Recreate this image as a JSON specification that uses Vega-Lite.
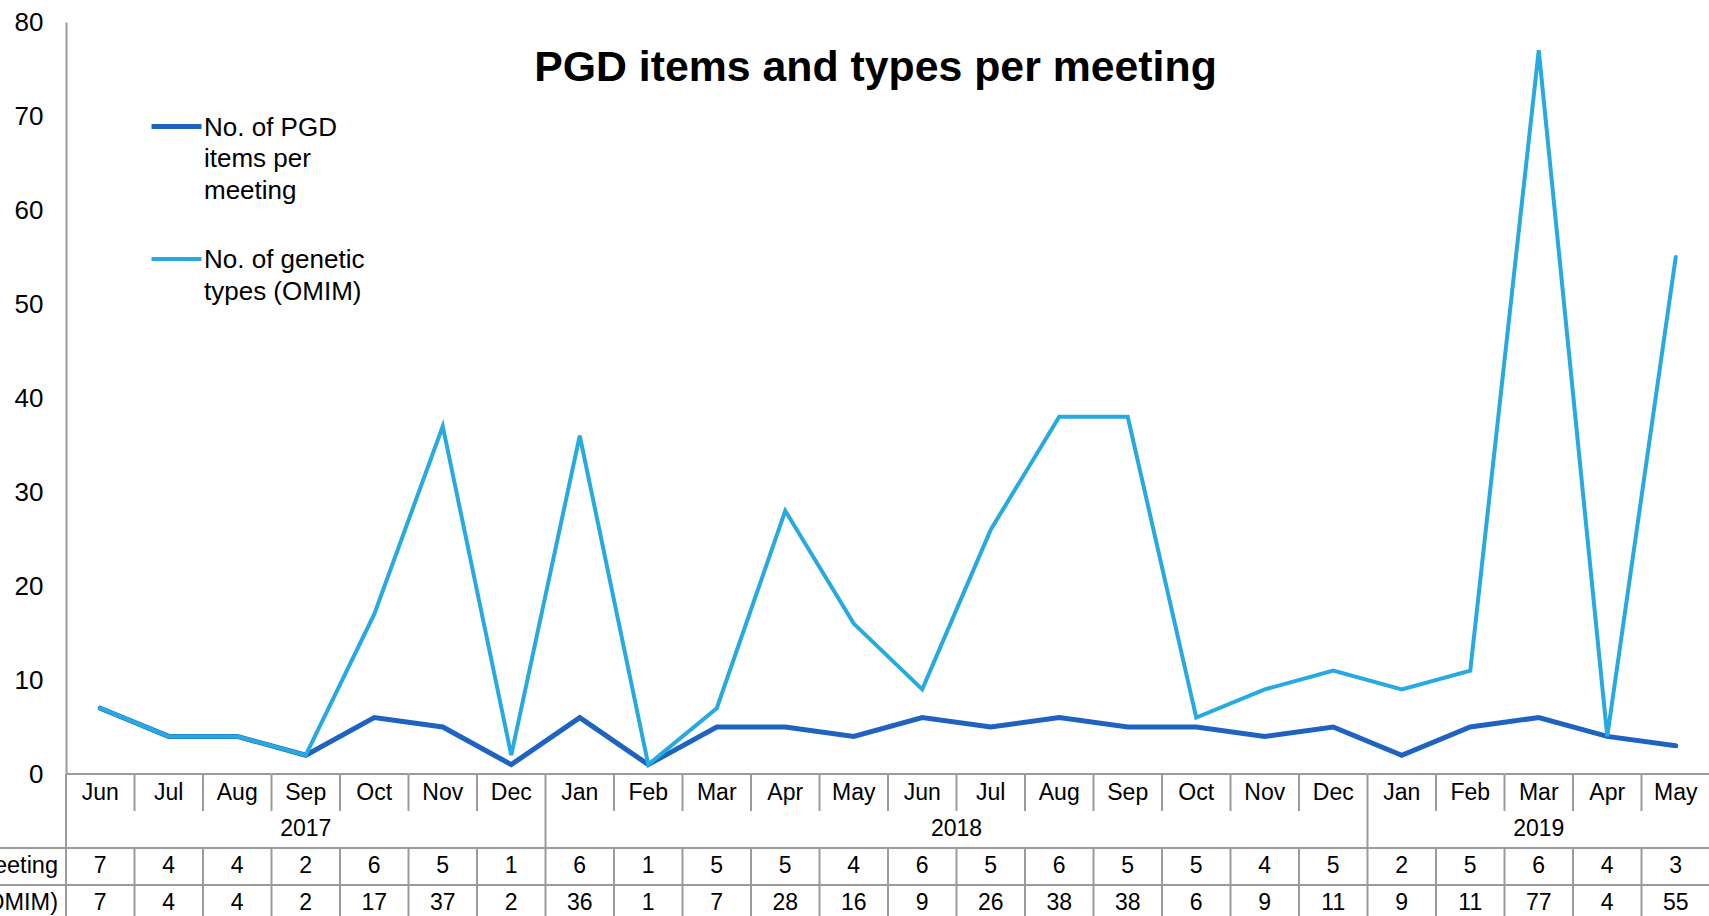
{
  "$schema": "https://vega.github.io/schema/vega-lite/v6.json",
  "width": 1709,
  "height": 894,
  "autosize": {"type": "none"},
  "padding": {"left": 0, "top": 22, "right": 0, "bottom": 0},
  "background": "white",
  "config": {
    "view": {"stroke": null},
    "font": "Liberation Sans",
    "style": {"guide-label": {"lineHeight": 31.5}}
  },
  "title": {
    "text": "PGD items and types per meeting",
    "font": "Liberation Sans",
    "fontSize": 42.8,
    "fontWeight": "bold",
    "color": "#000000",
    "anchor": "middle",
    "frame": "group",
    "baseline": "alphabetic",
    "dx": 21,
    "offset": -115
  },
  "datasets": {
    "months": [
      {"ym": "2017-06", "mon": "Jun", "yr": "2017", "items": 7, "types": 7},
      {"ym": "2017-07", "mon": "Jul", "yr": "2017", "items": 4, "types": 4},
      {"ym": "2017-08", "mon": "Aug", "yr": "2017", "items": 4, "types": 4},
      {"ym": "2017-09", "mon": "Sep", "yr": "2017", "items": 2, "types": 2},
      {"ym": "2017-10", "mon": "Oct", "yr": "2017", "items": 6, "types": 17},
      {"ym": "2017-11", "mon": "Nov", "yr": "2017", "items": 5, "types": 37},
      {"ym": "2017-12", "mon": "Dec", "yr": "2017", "items": 1, "types": 2},
      {"ym": "2018-01", "mon": "Jan", "yr": "2018", "items": 6, "types": 36},
      {"ym": "2018-02", "mon": "Feb", "yr": "2018", "items": 1, "types": 1},
      {"ym": "2018-03", "mon": "Mar", "yr": "2018", "items": 5, "types": 7},
      {"ym": "2018-04", "mon": "Apr", "yr": "2018", "items": 5, "types": 28},
      {"ym": "2018-05", "mon": "May", "yr": "2018", "items": 4, "types": 16},
      {"ym": "2018-06", "mon": "Jun", "yr": "2018", "items": 6, "types": 9},
      {"ym": "2018-07", "mon": "Jul", "yr": "2018", "items": 5, "types": 26},
      {"ym": "2018-08", "mon": "Aug", "yr": "2018", "items": 6, "types": 38},
      {"ym": "2018-09", "mon": "Sep", "yr": "2018", "items": 5, "types": 38},
      {"ym": "2018-10", "mon": "Oct", "yr": "2018", "items": 5, "types": 6},
      {"ym": "2018-11", "mon": "Nov", "yr": "2018", "items": 4, "types": 9},
      {"ym": "2018-12", "mon": "Dec", "yr": "2018", "items": 5, "types": 11},
      {"ym": "2019-01", "mon": "Jan", "yr": "2019", "items": 2, "types": 9},
      {"ym": "2019-02", "mon": "Feb", "yr": "2019", "items": 5, "types": 11},
      {"ym": "2019-03", "mon": "Mar", "yr": "2019", "items": 6, "types": 77},
      {"ym": "2019-04", "mon": "Apr", "yr": "2019", "items": 4, "types": 4},
      {"ym": "2019-05", "mon": "May", "yr": "2019", "items": 3, "types": 55}
    ],
    "years": [
      {"yr": "2017", "ym": "2017-09"},
      {"yr": "2018", "ym": "2018-07"},
      {"yr": "2019", "ym": "2019-03"}
    ],
    "headers": [
      {"ym": "hdr", "row": "items", "label": "No. of PGD items per meeting"},
      {"ym": "hdr", "row": "types", "label": "No. of genetic types (OMIM)"}
    ],
    "hlines": [{"line": "L2"}, {"line": "L3"}]
  },
  "resolve": {"scale": {"y": "independent"}},
  "layer": [
    {
      "data": {"name": "months"},
      "mark": {"type": "rule", "color": "#9b9b9b", "strokeWidth": 2},
      "encoding": {
        "x": {"field": "ym", "type": "ordinal", "bandPosition": 0, "axis": null,
              "scale": {"type": "band", "domain": ["hdr","2017-06","2017-07","2017-08","2017-09","2017-10","2017-11","2017-12","2018-01","2018-02","2018-03","2018-04","2018-05","2018-06","2018-07","2018-08","2018-09","2018-10","2018-11","2018-12","2019-01","2019-02","2019-03","2019-04","2019-05"], "range": [-2.5, 1710], "paddingInner": 0, "paddingOuter": 0}},
        "y": {"datum": "L0", "type": "ordinal", "axis": null, "scale": {"type": "point", "domain": ["L0","L1","L2","L3","L4"], "range": [752, 900], "padding": 0}},
        "y2": {"datum": "L1"}
      }
    },
    {
      "data": {"name": "months"},
      "transform": [{"filter": "datum.mon == 'Jan' || datum.ym == '2017-06'"}],
      "mark": {"type": "rule", "color": "#9b9b9b", "strokeWidth": 2},
      "encoding": {
        "x": {"field": "ym", "type": "ordinal", "bandPosition": 0, "axis": null},
        "y": {"datum": "L1", "type": "ordinal", "axis": null, "scale": {"type": "point", "domain": ["L0","L1","L2","L3","L4"], "range": [752, 900], "padding": 0}},
        "y2": {"datum": "L2"}
      }
    },
    {
      "data": {"name": "months"},
      "mark": {"type": "rule", "color": "#9b9b9b", "strokeWidth": 2},
      "encoding": {
        "x": {"field": "ym", "type": "ordinal", "bandPosition": 0, "axis": null},
        "y": {"datum": "L2", "type": "ordinal", "axis": null, "scale": {"type": "point", "domain": ["L0","L1","L2","L3","L4"], "range": [752, 900], "padding": 0}},
        "y2": {"datum": "L4"}
      }
    },
    {
      "data": {"name": "hlines"},
      "mark": {"type": "rule", "color": "#9b9b9b", "strokeWidth": 2},
      "encoding": {
        "y": {"field": "line", "type": "ordinal", "axis": null, "scale": {"type": "point", "domain": ["L0","L1","L2","L3","L4"], "range": [752, 900], "padding": 0}}
      }
    },
    {
      "data": {"name": "months"},
      "mark": {"type": "rect", "fill": null, "stroke": "#9b9b9b", "strokeWidth": 2},
      "encoding": {
        "x": {"field": "ym", "type": "ordinal", "axis": null},
        "y": {"datum": "L0", "type": "ordinal", "axis": null, "scale": {"type": "point", "domain": ["L0","L1","L2","L3","L4"], "range": [752, 900], "padding": 0}},
        "y2": {"datum": "L0"}
      }
    },
    {
      "data": {"name": "months"},
      "mark": {"type": "text", "fontSize": 23, "color": "#000000", "baseline": "middle"},
      "encoding": {
        "x": {"field": "ym", "type": "ordinal", "bandPosition": 0.5, "axis": null},
        "y": {"datum": "mon", "type": "ordinal", "axis": null, "scale": {"type": "point", "domain": ["mon","yr","items","types"], "range": [770.5, 880.5], "padding": 0}},
        "text": {"field": "mon"}
      }
    },
    {
      "data": {"name": "years"},
      "transform": [{"filter": "datum.yr != '2018'"}],
      "mark": {"type": "text", "fontSize": 23, "color": "#000000", "baseline": "middle"},
      "encoding": {
        "x": {"field": "ym", "type": "ordinal", "bandPosition": 0.5, "axis": null},
        "y": {"datum": "yr", "type": "ordinal", "axis": null, "scale": {"type": "point", "domain": ["mon","yr","items","types"], "range": [770.5, 880.5], "padding": 0}},
        "text": {"field": "yr"}
      }
    },
    {
      "data": {"name": "years"},
      "transform": [{"filter": "datum.yr == '2018'"}],
      "mark": {"type": "text", "fontSize": 23, "color": "#000000", "baseline": "middle"},
      "encoding": {
        "x": {"field": "ym", "type": "ordinal", "bandPosition": 0, "axis": null},
        "y": {"datum": "yr", "type": "ordinal", "axis": null, "scale": {"type": "point", "domain": ["mon","yr","items","types"], "range": [770.5, 880.5], "padding": 0}},
        "text": {"field": "yr"}
      }
    },
    {
      "data": {"name": "months"},
      "transform": [{"fold": ["items", "types"], "as": ["row", "val"]}],
      "mark": {"type": "text", "fontSize": 23, "color": "#000000", "baseline": "middle"},
      "encoding": {
        "x": {"field": "ym", "type": "ordinal", "bandPosition": 0.5, "axis": null},
        "y": {"field": "row", "type": "ordinal", "axis": null, "scale": {"type": "point", "domain": ["mon","yr","items","types"], "range": [770.5, 880.5], "padding": 0}},
        "text": {"field": "val", "type": "quantitative"}
      }
    },
    {
      "data": {"name": "headers"},
      "mark": {"type": "text", "fontSize": 23.5, "color": "#000000", "baseline": "middle", "align": "right", "dx": -8},
      "encoding": {
        "x": {"field": "ym", "type": "ordinal", "bandPosition": 1, "axis": null},
        "y": {"field": "row", "type": "ordinal", "axis": null, "scale": {"type": "point", "domain": ["mon","yr","items","types"], "range": [770.5, 880.5], "padding": 0}},
        "text": {"field": "label"}
      }
    },
    {
      "data": {"name": "months"},
      "transform": [{"fold": ["items", "types"], "as": ["series", "value"]}],
      "mark": {"type": "line", "strokeCap": "round"},
      "encoding": {
        "x": {"field": "ym", "type": "ordinal", "bandPosition": 0.5, "axis": null},
        "y": {"field": "value", "type": "quantitative",
              "scale": {"domain": [0, 80], "range": [752, 0], "nice": false, "zero": true},
              "axis": {"values": [0, 10, 20, 30, 40, 50, 60, 70, 80], "title": null, "grid": false, "ticks": false, "tickSize": 0,
                       "domainColor": "#9b9b9b", "domainWidth": 2, "labelFontSize": 26, "labelColor": "#000000",
                       "labelFont": "Liberation Sans", "labelPadding": 23, "offset": -66}},
        "color": {"field": "series", "type": "nominal",
                  "scale": {"domain": ["items", "types"], "range": ["#1f63c0", "#27a9e1"]},
                  "legend": {"orient": "none", "legendX": 149, "legendY": 77, "title": null, "padding": 0,
                             "symbolType": "stroke", "symbolSize": 2500, "symbolStrokeWidth": 5,
                             "labelFontSize": 26, "labelColor": "#000000", "labelFont": "Liberation Sans",
                             "labelOffset": 0, "labelLimit": 400, "labelBaseline": "top", "rowPadding": 28,
                             "encoding": {"labels": {"dy": {"value": -12}}},
                             "labelExpr": "datum.value == 'items' ? ['No. of PGD', 'items per', 'meeting'] : ['No. of genetic', 'types (OMIM)']"}},
        "strokeWidth": {"field": "series", "type": "nominal", "scale": {"domain": ["items", "types"], "range": [5, 4]}, "legend": null}
      }
    }
  ]
}
